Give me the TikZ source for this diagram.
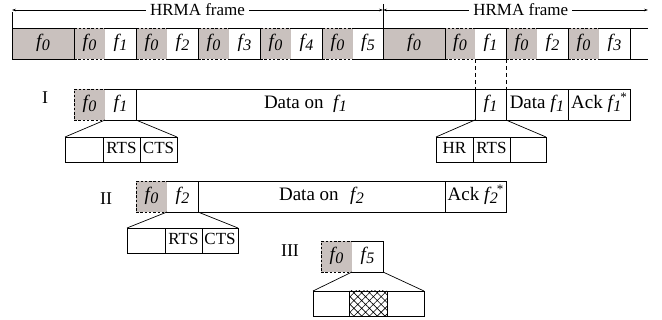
\documentclass[tikz,border=0pt]{standalone}
\usepackage{fontspec}
\setmainfont{Liberation Serif}
\usetikzlibrary{arrows.meta,patterns.meta}
\definecolor{shade}{RGB}{201,193,190}
\newcommand{\fx}[1]{\textit{f\kern0.03em\raisebox{-0.3ex}{\fontsize{16}{16}\selectfont #1}}}
\newcommand{\fxs}[1]{\textit{f\kern0.03em\raisebox{-0.3ex}{\fontsize{16}{16}\selectfont #1}\kern-0.05em\raisebox{0.9ex}{\fontsize{13}{13}\selectfont\upshape *}}}
\newcommand{\cell}[6][]{\node[cellbase,#1,minimum width={#4-#3}] (#2) at (#3,#5) {#6};}
\begin{document}
\begin{tikzpicture}[x=1pt,y=-1pt,
  ln/.style={line width=0.7pt},
  cellbase/.style={anchor=north west, inner sep=0pt, outer sep=0pt, minimum height=31pt,
    text height=13pt, text depth=4pt, font=\fontsize{19}{19}\selectfont, line width=0.7pt},
  gcell/.style={fill=shade, draw, dash pattern=on 2.5pt off 1.8pt},
  bcell/.style={fill=shade, draw},
  wcell/.style={fill=white, draw},
  ocell/.style={fill=white},
  sub/.style={minimum height=25pt, text height=11.5pt, text depth=3pt, font=\fontsize{17}{17}\selectfont},
  rts/.style={line width=0.95pt},
  tip/.style={{Stealth[length=4pt,width=2.6pt]}-{Stealth[length=4pt,width=2.6pt]}, line width=0.6pt},
  dash2/.style={ln, dash pattern=on 4pt off 3pt},
  rowlab/.style={anchor=base, font=\fontsize{18}{18}\selectfont, inner sep=0pt}]
\useasboundingbox (0,0) rectangle (662,320);

% ---- top bar ----
\cell[gcell]{t1}{74}{105}{28}{\fx{0}}
\cell[ocell]{t2}{105}{136}{28}{\fx{1}}
\cell[gcell]{t3}{136}{167}{28}{\fx{0}}
\cell[ocell]{t4}{167}{198}{28}{\fx{2}}
\cell[gcell]{t5}{198}{229}{28}{\fx{0}}
\cell[ocell]{t6}{229}{260}{28}{\fx{3}}
\cell[gcell]{t7}{260}{291}{28}{\fx{0}}
\cell[ocell]{t8}{291}{322}{28}{\fx{4}}
\cell[gcell]{t9}{322}{353}{28}{\fx{0}}
\cell[ocell]{t10}{353}{383}{28}{\fx{5}}
\cell[gcell]{t12}{445}{475}{28}{\fx{0}}
\cell[ocell]{t13}{475}{506}{28}{\fx{1}}
\cell[gcell]{t14}{506}{537}{28}{\fx{0}}
\cell[ocell]{t15}{537}{568}{28}{\fx{2}}
\cell[gcell]{t16}{568}{599}{28}{\fx{0}}
\cell[ocell]{t17}{599}{630}{28}{\fx{3}}
\cell[ocell]{t18}{630}{648}{28}{}
\cell[bcell]{t0}{12}{74}{28}{\fx{0}}
\cell[bcell]{t11}{383}{445}{28}{\fx{0}}
\foreach \n in {t2,t4,t6,t8,t10,t13,t15,t17}
  \draw[ln] (\n.north west) -- (\n.north east) -- (\n.south east) -- (\n.south west);
\draw[ln] (t18.north west) -- (t18.north east);
\draw[ln] (t18.south west) -- (t18.south east);

% ---- HRMA frame arrows ----
\coordinate (h0) at (12,10);
\coordinate (h1) at (383,10);
\coordinate (h2) at (648,10);
\coordinate (v1) at (383,4);
\draw[ln] (t0.north west) -- (12,12);
\draw[ln] (v1) -- (t11.north west);
\draw[tip] (h0) -- node[fill=white, inner sep=4pt, font=\fontsize{17}{17}\selectfont] (hl1) {HRMA frame} (h1);
\draw[tip] (h1) -- node[pos=0.52, fill=white, inner sep=4pt, font=\fontsize{17}{17}\selectfont] (hl2) {HRMA frame} (h2);

% ---- row I ----
\node[rowlab] (lI) at (45,104) {I};
\cell[gcell]{r1a}{74}{105}{89}{\fx{0}}
\cell[ocell]{r1b}{105}{136}{89}{\fx{1}}
\cell[wcell]{r1c}{136}{475}{89}{Data on\hspace{0.5em}\fx{1}}
\cell[wcell]{r1d}{475}{506}{89}{\fx{1}}
\cell[wcell]{r1e}{506}{568}{89}{Data \fx{1}}
\cell[wcell]{r1f}{568}{630}{89}{Ack \fxs{1}}
\draw[ln] (r1b.north west) -- (r1b.north east) -- (r1b.south east) -- (r1b.south west);
\draw[dash2] (t13.south west) -- (r1d.north west);
\draw[dash2] (t13.south east) -- (r1d.north east);

\cell[wcell,sub]{s1a}{65}{103}{137}{}
\cell[wcell,sub,rts]{s1b}{103}{140}{137}{RTS}
\cell[wcell,sub]{s1c}{140}{177}{137}{CTS}
\cell[wcell,sub]{s1d}{436}{473}{137}{HR}
\cell[wcell,sub,rts]{s1e}{473}{510}{137}{RTS}
\cell[wcell,sub]{s1f}{510}{546}{137}{}
\draw[ln] (r1a.south east) -- (s1a.north west);
\draw[ln] (r1b.south east) -- (s1c.north east);
\draw[ln] (r1d.south west) -- (s1d.north west);
\draw[ln] (r1d.south east) -- (s1f.north east);

% ---- row II ----
\node[rowlab] (lII) at (106,205) {II};
\cell[gcell]{r2a}{136}{167}{181}{\fx{0}}
\cell[ocell]{r2b}{167}{198}{181}{\fx{2}}
\cell[wcell]{r2c}{198}{445}{181}{Data on\hspace{0.6em}\fx{2}}
\cell[wcell]{r2d}{445}{506}{181}{Ack \fxs{2}}
\draw[ln] (r2b.north west) -- (r2b.north east) -- (r2b.south east) -- (r2b.south west);

\cell[wcell,sub]{s2a}{127}{165}{228}{}
\cell[wcell,sub,rts]{s2b}{165}{202}{228}{RTS}
\cell[wcell,sub]{s2c}{202}{238}{228}{CTS}
\draw[ln] (r2a.south east) -- (s2a.north west);
\draw[ln] (r2b.south east) -- (s2c.north east);

% ---- row III ----
\node[rowlab] (lIII) at (290,257) {III};
\cell[gcell]{r3a}{321}{352}{241}{\fx{0}}
\cell[ocell]{r3b}{352}{383}{241}{\fx{5}}
\draw[ln] (r3b.north west) -- (r3b.north east) -- (r3b.south east) -- (r3b.south west);

\cell[wcell,sub]{s3a}{313}{349}{291}{}
\cell[sub,draw,pattern={Hatch[angle=45,distance=5.5pt,line width=0.6pt]}]{s3b}{349}{387}{291}{}
\cell[wcell,sub]{s3c}{387}{424}{291}{}
\draw[ln] (r3a.south east) -- (s3a.north west);
\draw[ln] (r3b.south east) -- (s3c.north east);
\end{tikzpicture}
\end{document}
